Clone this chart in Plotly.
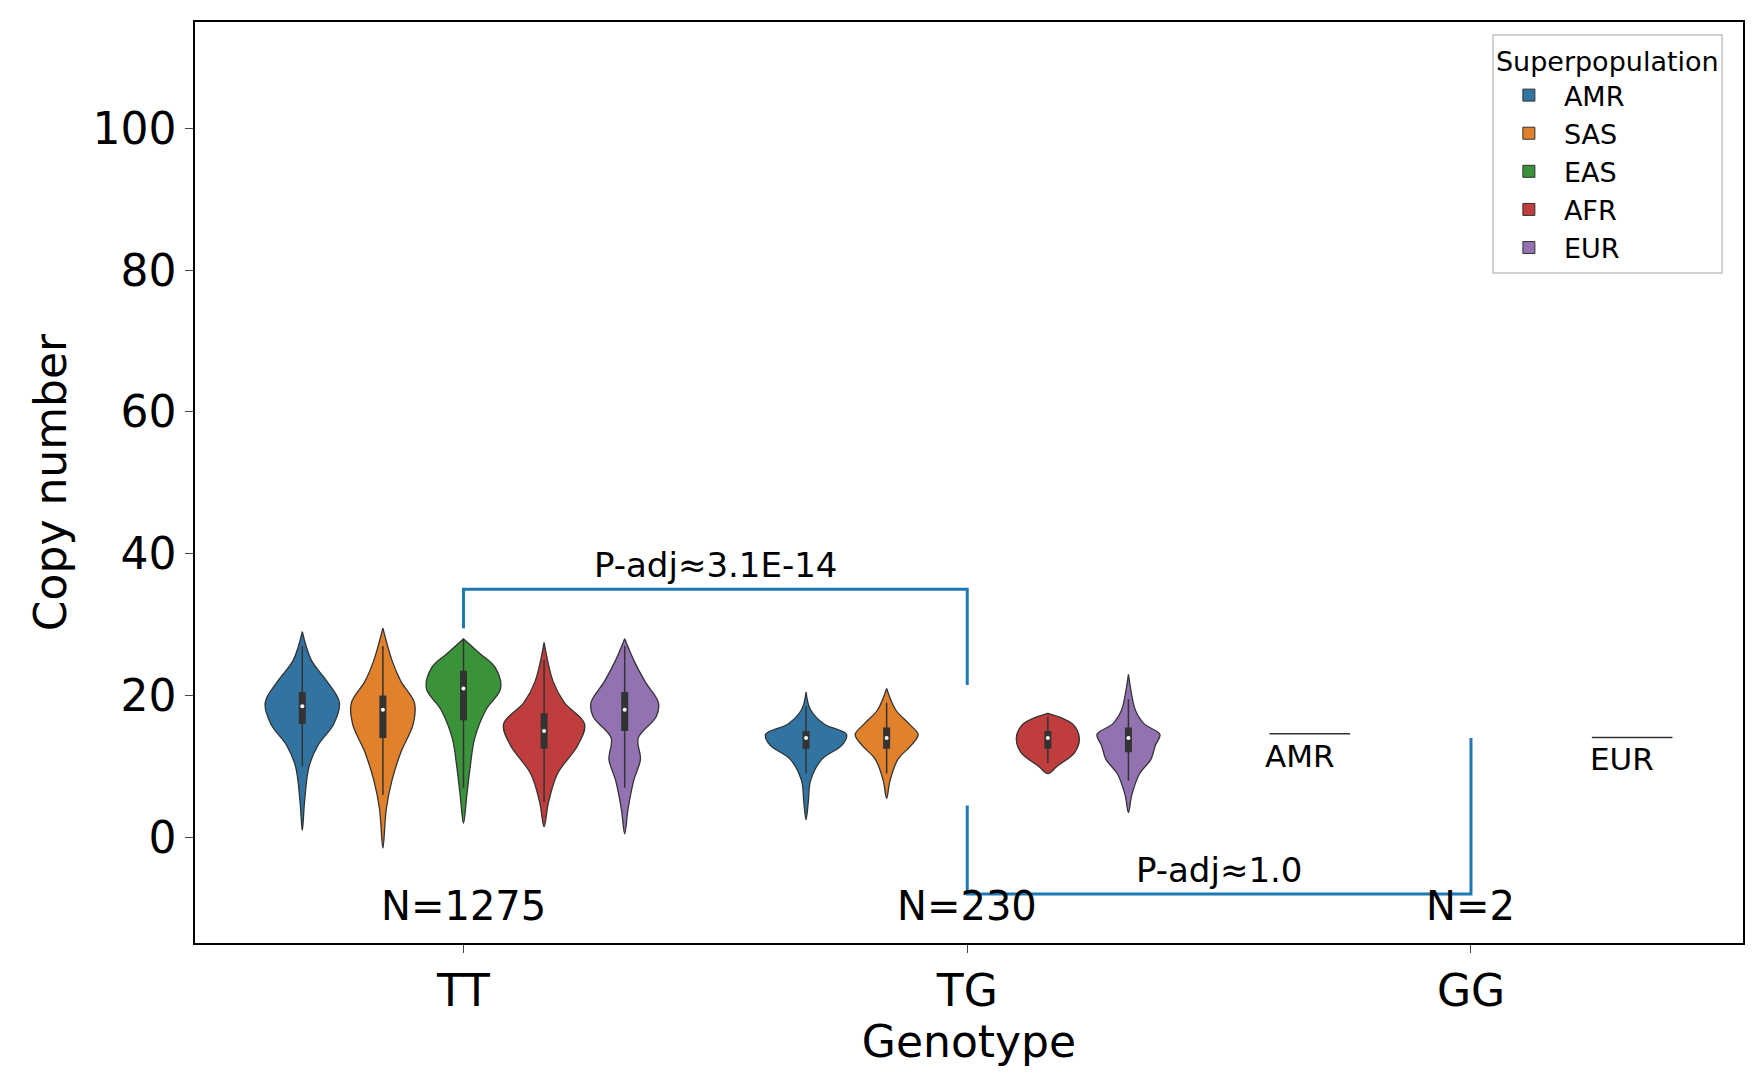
import plotly.graph_objects as go

genotypes = ["TT", "TG", "GG"]
pops = ["AMR", "SAS", "EAS", "AFR", "EUR"]
colors = {"AMR": "#3274a1", "SAS": "#e1812c", "EAS": "#3a923a", "AFR": "#c03d3e", "EUR": "#9372b2"}
n_labels = ["N=1275", "N=230", "N=2"]

# violin outlines: (genotype, pop, y values, half widths in px)
profiles = [
    ("TT", "AMR", [1, 5, 10, 13, 16, 19, 22, 25, 29], [0, 2, 6, 14, 28, 33, 22, 8, 0]),
    ("TT", "SAS", [-1.5, 4, 8, 12, 16, 19, 22, 25, 29.5], [0, 3, 8, 16, 27, 28, 16, 8, 0]),
    ("TT", "EAS", [2, 6, 10, 14, 18, 21, 24, 26, 28], [0, 3, 6, 10, 20, 33, 28, 14, 0]),
    ("TT", "AFR", [1.5, 5, 9, 13, 16, 19, 22, 27.5], [0, 4, 12, 30, 36, 18, 8, 0]),
    ("TT", "EUR", [0.5, 4, 8, 11, 14, 17, 19, 22, 25, 28], [0, 3, 8, 14, 12, 28, 30, 18, 8, 0]),
    ("TG", "AMR", [2.5, 5, 8, 11, 13, 14.5, 16, 18, 20.5], [0, 2, 4, 14, 32, 36, 16, 4, 0]),
    ("TG", "SAS", [5.5, 8, 11, 13, 14.5, 16, 18, 21], [0, 3, 10, 22, 28, 20, 8, 0]),
    ("TG", "AFR", [9, 10, 12, 14, 16, 17.5], [0, 8, 24, 28, 22, 0]),
    ("TG", "EUR", [3.5, 6, 9, 11, 13, 14.5, 16, 18, 20, 23], [0, 3, 10, 20, 24, 28, 14, 6, 3, 0]),
]
# box stats: q1, median, q3, whisker low, whisker high
boxes = {
    ("TT", "AMR"): [16, 18.5, 20.5, 10, 27],
    ("TT", "SAS"): [14, 18, 20, 6, 27],
    ("TT", "EAS"): [16.5, 21, 23.5, 7, 28],
    ("TT", "AFR"): [12.5, 15, 17.5, 5, 25],
    ("TT", "EUR"): [15, 18, 20.5, 7, 27],
    ("TG", "AMR"): [12.5, 14, 15, 9, 18.5],
    ("TG", "SAS"): [12.5, 14, 15.5, 9, 19],
    ("TG", "AFR"): [12.5, 14, 15, 10.5, 17],
    ("TG", "EUR"): [12, 14, 15.5, 8, 19.5],
}
# single samples in GG
singles = [("GG", "AMR", 14.6), ("GG", "EUR", 14.1)]

PX = 448.0
def pos(g, p):
    return genotypes.index(g) + (pops.index(p) - 2) * 0.16

fig = go.Figure()
for g, p, ys, hw in profiles:
    c = pos(g, p)
    xs = [c + w / PX for w in hw] + [c - w / PX for w in hw[::-1]]
    fig.add_trace(go.Scatter(x=xs, y=ys + ys[::-1], fill="toself", fillcolor=colors[p],
                             line=dict(color="#333333", width=1.3, shape="spline", smoothing=1.0),
                             mode="lines", showlegend=False, hoverinfo="skip"))
    q1, med, q3, lo, hi = boxes[(g, p)]
    fig.add_trace(go.Scatter(x=[c, c], y=[lo, hi], mode="lines", line=dict(color="#333333", width=1.5),
                             showlegend=False, hoverinfo="skip"))
    fig.add_trace(go.Scatter(x=[c, c], y=[q1, q3], mode="lines", line=dict(color="#333333", width=7),
                             showlegend=False, hoverinfo="skip"))
    fig.add_trace(go.Scatter(x=[c], y=[med], mode="markers", marker=dict(color="white", size=4),
                             showlegend=False, hoverinfo="skip"))

for g, p, v in singles:
    c = pos(g, p)
    fig.add_trace(go.Scatter(x=[c - 0.08, c + 0.08], y=[v, v], mode="lines",
                             line=dict(color="#333333", width=1.5), showlegend=False, hoverinfo="skip"))
    fig.add_annotation(x=c - 0.02, y=v, text=p, showarrow=False, yanchor="top", yshift=-2,
                       font=dict(size=31, color="black"))

for p in pops:
    fig.add_trace(go.Bar(x=[None], y=[None], name=p, marker=dict(color=colors[p], line=dict(color="#333333", width=1))))

# significance brackets
br = dict(color="#1f77b4", width=3)
fig.add_trace(go.Scatter(x=[0, 0, 1, 1], y=[29.5, 35, 35, 21.5], mode="lines", line=br, showlegend=False, hoverinfo="skip"))
fig.add_trace(go.Scatter(x=[1, 1, 2, 2], y=[4.5, -8, -8, 14], mode="lines", line=br, showlegend=False, hoverinfo="skip"))
fig.add_annotation(x=0.5, y=35, text="P-adj≈3.1E-14", showarrow=False, yanchor="bottom", yshift=2, font=dict(size=34, color="black"))
fig.add_annotation(x=1.5, y=-8, text="P-adj≈1.0", showarrow=False, yanchor="bottom", yshift=2, font=dict(size=34, color="black"))
for i, t in enumerate(n_labels):
    fig.add_annotation(x=i, y=-9.7, text=t, showarrow=False, font=dict(size=40, color="black"))
fig.add_annotation(x=0.08, y=115.5, text="POS: 160585140<br>MAF: 0.0776", showarrow=False, xanchor="left", yanchor="top",
                   align="left", font=dict(size=44, color="black"))

fig.update_layout(
    width=1763, height=1090, plot_bgcolor="white", paper_bgcolor="white",
    margin=dict(l=187, r=28, t=12, b=155),
    font=dict(family="DejaVu Sans", color="black"),
    xaxis=dict(range=[-0.533, 2.54], tickvals=[0, 1, 2], ticktext=genotypes, showgrid=False, zeroline=False,
               showline=True, mirror=True, linecolor="black", linewidth=1.5, ticks="outside", ticklen=8,
               tickfont=dict(size=44), title=dict(text="Genotype", font=dict(size=44), standoff=2)),
    yaxis=dict(range=[-14.9, 115], tickvals=[0, 20, 40, 60, 80, 100], showgrid=False, zeroline=False,
               showline=True, mirror=True, linecolor="black", linewidth=1.5, ticks="outside", ticklen=8,
               tickfont=dict(size=44), title=dict(text="Copy number", font=dict(size=44), standoff=12)),
    legend=dict(x=0.987, y=0.987, xanchor="right", yanchor="top", bordercolor="#d0d0d0", borderwidth=2,
                title=dict(text="Superpopulation", font=dict(size=27), side="top"), font=dict(size=27),
                bgcolor="white", itemwidth=60),
    showlegend=True,
)
fig.write_html("out.html")
